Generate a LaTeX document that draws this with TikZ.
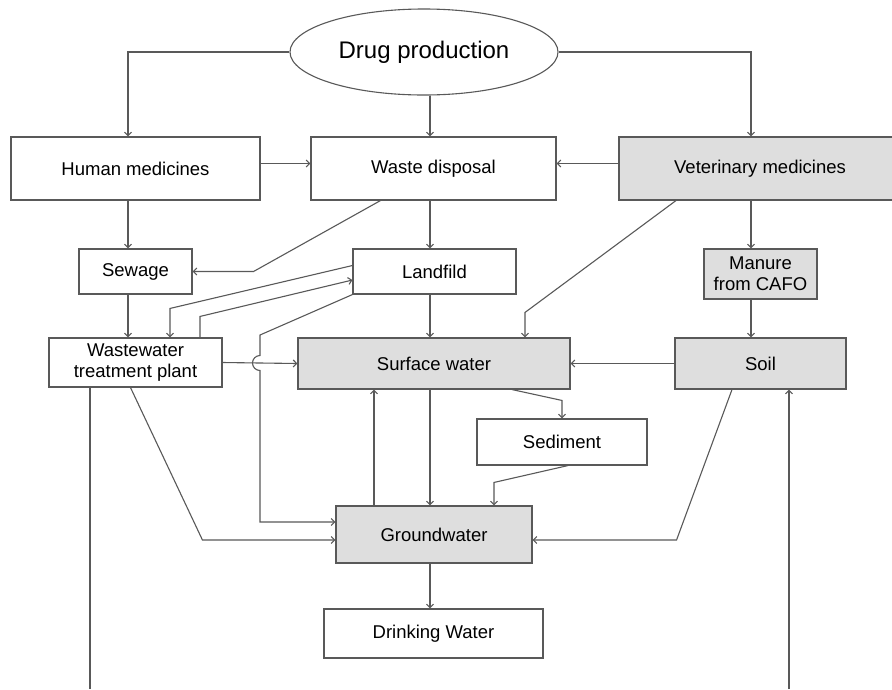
\documentclass[tikz,border=0pt]{standalone}
\usepackage{fontspec}
\setmainfont{Liberation Sans}
\usetikzlibrary{positioning, arrows.meta, calc, shapes.geometric}
\definecolor{linegray}{HTML}{595959}
\definecolor{boxgray}{HTML}{DEDEDE}

\begin{document}
\begin{tikzpicture}[
  x=1pt, y=-1pt,
  box/.style={draw=linegray, line width=1.1pt, fill=white, inner sep=2pt,
              font=\fontsize{18.5}{21}\selectfont, align=center},
  gbox/.style={box, fill=boxgray},
  arrow/.style={-{Straight Barb[length=3.5pt, width=7pt]}, draw=linegray, line width=1.1pt},
  line/.style={draw=linegray, line width=1.1pt},
]
  \useasboundingbox (0,0) rectangle (892,689);
  \clip (0,0) rectangle (892,689);
  \fill[white] (0,0) rectangle (892,689);
  % Source
  \node[ellipse, draw=linegray, line width=1.1pt, minimum width=268pt, minimum height=86pt,
        font=\fontsize{24}{28}\selectfont] (drug) at (424,52) {Drug production};
  % Medicines and disposal
  \node[box, minimum width=249pt, minimum height=63pt] (human) at (135.5,168.5) {Human medicines};
  \node[box, minimum width=245pt, minimum height=63pt] (waste) at (433.5,168.5) {Waste disposal};
  \node[gbox, minimum width=282pt, minimum height=63pt] (vet) at (760,168.5) {Veterinary medicines};
  % Second row
  \node[box, minimum width=113pt, minimum height=45pt] (sewage) at (135.5,271.5) {Sewage};
  \node[box, minimum width=163pt, minimum height=45pt] (landfild) at (434.5,271.5) {Landfild};
  \node[gbox, minimum width=113pt, minimum height=50pt] (manure) at (760.5,274) {Manure\\from CAFO};
  % Third row
  \node[box, minimum width=173pt, minimum height=49pt] (wwtp) at (135.5,362.5) {Wastewater\\treatment plant};
  \node[gbox, minimum width=272pt, minimum height=51pt] (surface) at (434,363.5) {Surface water};
  \node[gbox, minimum width=171pt, minimum height=51pt] (soil) at (760.5,363.5) {Soil};
  % Lower part
  \node[box, minimum width=170pt, minimum height=46pt] (sediment) at (562,442) {Sediment};
  \node[gbox, minimum width=196pt, minimum height=57pt] (ground) at (434,534.5) {Groundwater};
  \node[box, minimum width=219pt, minimum height=49pt] (drinking) at (433.5,633.5) {Drinking Water};
  % Helper coordinates
  \coordinate (colL) at (128,0);
  \coordinate (colM) at (430,0);
  \coordinate (colR) at (751,0);
  \coordinate (hop) at (260,363);
  \coordinate (bottomL) at (90,689);
  \coordinate (bottomR) at (789,689);
  % Arrows from the top
  \draw[arrow] (drug.west) -| (colL |- human.north);
  \draw[arrow] (drug.east) -| (colR |- vet.north);
  \draw[arrow] (colM |- drug.south) -- (colM |- waste.north);
  \draw[arrow] ([yshift=5pt]human.east) -- ([yshift=5pt]waste.west);
  \draw[arrow] ([yshift=5pt]vet.west) -- ([yshift=5pt]waste.east);
  \draw[arrow] (colL |- human.south) -- (colL |- sewage.north);
  \draw[arrow] ([xshift=-53pt]waste.south) -- ($(sewage.east)+(61,0)$) -- (sewage.east);
  \draw[arrow] (colM |- waste.south) -- (colM |- landfild.north);
  \draw[arrow] ([xshift=-84pt]vet.south) -- ($(surface.north)+(91,-25)$) -- ([xshift=91pt]surface.north);
  \draw[arrow] (colR |- vet.south) -- (colR |- manure.north);
  \draw[arrow] (colR |- manure.south) -- (colR |- soil.north);
  % Sewage, landfild and plant
  \draw[arrow] (colL |- sewage.south) -- (colL |- wwtp.north);
  \draw[arrow] ([yshift=6pt]landfild.west) -- ($(wwtp.north)+(34.5,-29)$) -- ([xshift=34.5pt]wwtp.north);
  \draw[arrow] ([xshift=64.5pt]wwtp.north) -- ++(0,-21) -- ([yshift=-8.5pt]landfild.west);
  \draw[arrow] (wwtp.east) -- (surface.west);
  \draw[arrow] (landfild.south west) -- ($(hop)+(0,-28)$) -- ([yshift=7.5pt]hop)
    arc[start angle=90, end angle=270, radius=7.5pt]
    -- ($(ground.west -| hop)+(0,-12.5)$) -- ([yshift=12.5pt]ground.west);
  \draw[arrow] (colM |- landfild.south) -- (colM |- surface.north);
  % Water compartments
  \draw[arrow] (soil.west) -- (surface.east);
  \draw[arrow] ([xshift=78pt]surface.south) -- ($(sediment.north)+(0,-18)$) -- (sediment.north);
  \draw[arrow] ([xshift=6pt]sediment.south) -- ($(ground.north)+(60,-23)$) -- ([xshift=60pt]ground.north);
  \draw[arrow] (colM |- surface.south) -- (colM |- ground.north);
  \draw[arrow] ([xshift=-60pt]ground.north) -- ([xshift=-60pt]surface.south);
  \draw[arrow] ([xshift=-5pt]wwtp.south) -- ($(ground.west)+(-133,5.5)$) -- ([yshift=-5.5pt]ground.west);
  \draw[arrow] ([xshift=-28.5pt]soil.south) -- ($(ground.east)+(144,5.5)$) -- ([yshift=-5.5pt]ground.east);
  \draw[arrow] (colM |- ground.south) -- (colM |- drinking.north);
  % Long lines at the bottom
  \draw[line] (bottomL |- wwtp.south) -- (bottomL);
  \draw[arrow] (bottomR) -- (bottomR |- soil.south);
\end{tikzpicture}
\end{document}
